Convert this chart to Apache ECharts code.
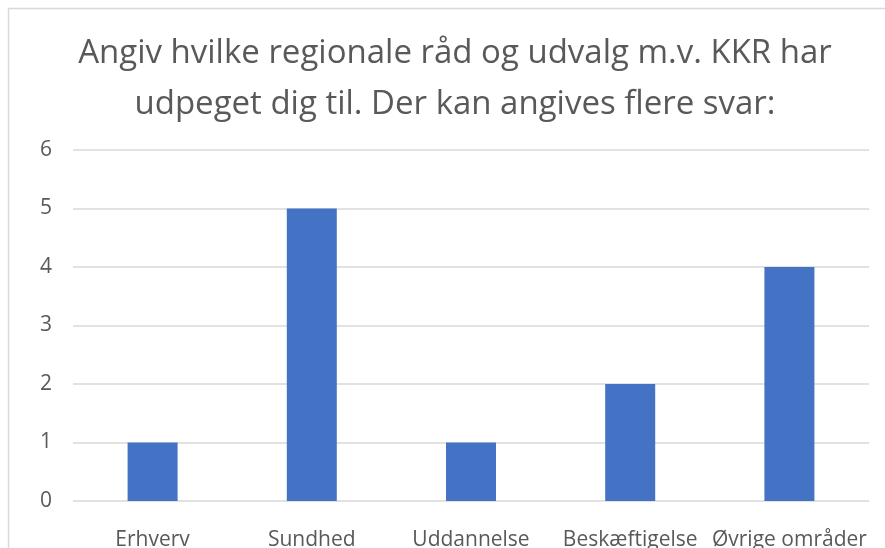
<!DOCTYPE html>
<html>
<head>
<meta charset="utf-8">
<script src="https://cdn.jsdelivr.net/npm/echarts@6/dist/echarts.min.js"></script>
<style>
  html, body { margin: 0; padding: 0; background: #ffffff; }
  #chart { width: 885px; height: 548px; }
</style>
</head>
<body>
<div id="chart"></div>
<script>
// Responses per council / committee area
const categories = ['Erhverv', 'Sundhed', 'Uddannelse', 'Beskæftigelse', 'Øvrige områder'];
const counts = [1, 5, 1, 2, 4];
const yTicks = [0, 1, 2, 3, 4, 5, 6];

const titleLines = [
  'Angiv hvilke regionale råd og udvalg m.v. KKR har',
  'udpeget dig til. Der kan angives flere svar:'
];

const fontFamily = '"Open Sans", "Noto Sans", sans-serif';
const textColor = '#595959';

const chart = echarts.init(document.getElementById('chart'), null, { renderer: 'canvas' });

chart.setOption({
  animation: false,
  backgroundColor: '#ffffff',
  graphic: [
    {
      type: 'rect',
      shape: { x: 8.5, y: 8.5, width: 1000, height: 1000 },
      style: { fill: 'none', stroke: '#d9d9d9', lineWidth: 1.5 },
      silent: true,
      z: -1
    },
    {
      type: 'text',
      style: {
        x: 455,
        y: 28,
        text: titleLines.join('\n'),
        textAlign: 'center',
        textVerticalAlign: 'top',
        font: '33px ' + fontFamily,
        lineHeight: 51,
        fill: textColor
      },
      silent: true
    }
  ],
  grid: {
    left: 73, right: 16, top: 150, bottom: 47,
    containLabel: false,
    outerBoundsMode: 'none'
  },
  xAxis: {
    type: 'category',
    data: categories,
    axisLine: { show: false },
    axisTick: { show: false },
    axisLabel: {
      color: textColor,
      fontFamily: fontFamily,
      fontSize: 21,
      margin: 29,
      interval: 0
    }
  },
  yAxis: {
    type: 'value',
    min: yTicks[0],
    max: yTicks[yTicks.length - 1],
    interval: 1,
    axisLine: { show: false },
    axisTick: { show: false },
    axisLabel: {
      color: textColor,
      fontFamily: fontFamily,
      fontSize: 21,
      margin: 21,
      padding: [8, 0, 0, 0]
    },
    splitLine: { lineStyle: { color: '#d9d9d9', width: 1.5 } }
  },
  series: [
    {
      type: 'bar',
      data: counts,
      barWidth: 50,
      itemStyle: { color: '#4472c4' }
    }
  ]
});
</script>
</body>
</html>
